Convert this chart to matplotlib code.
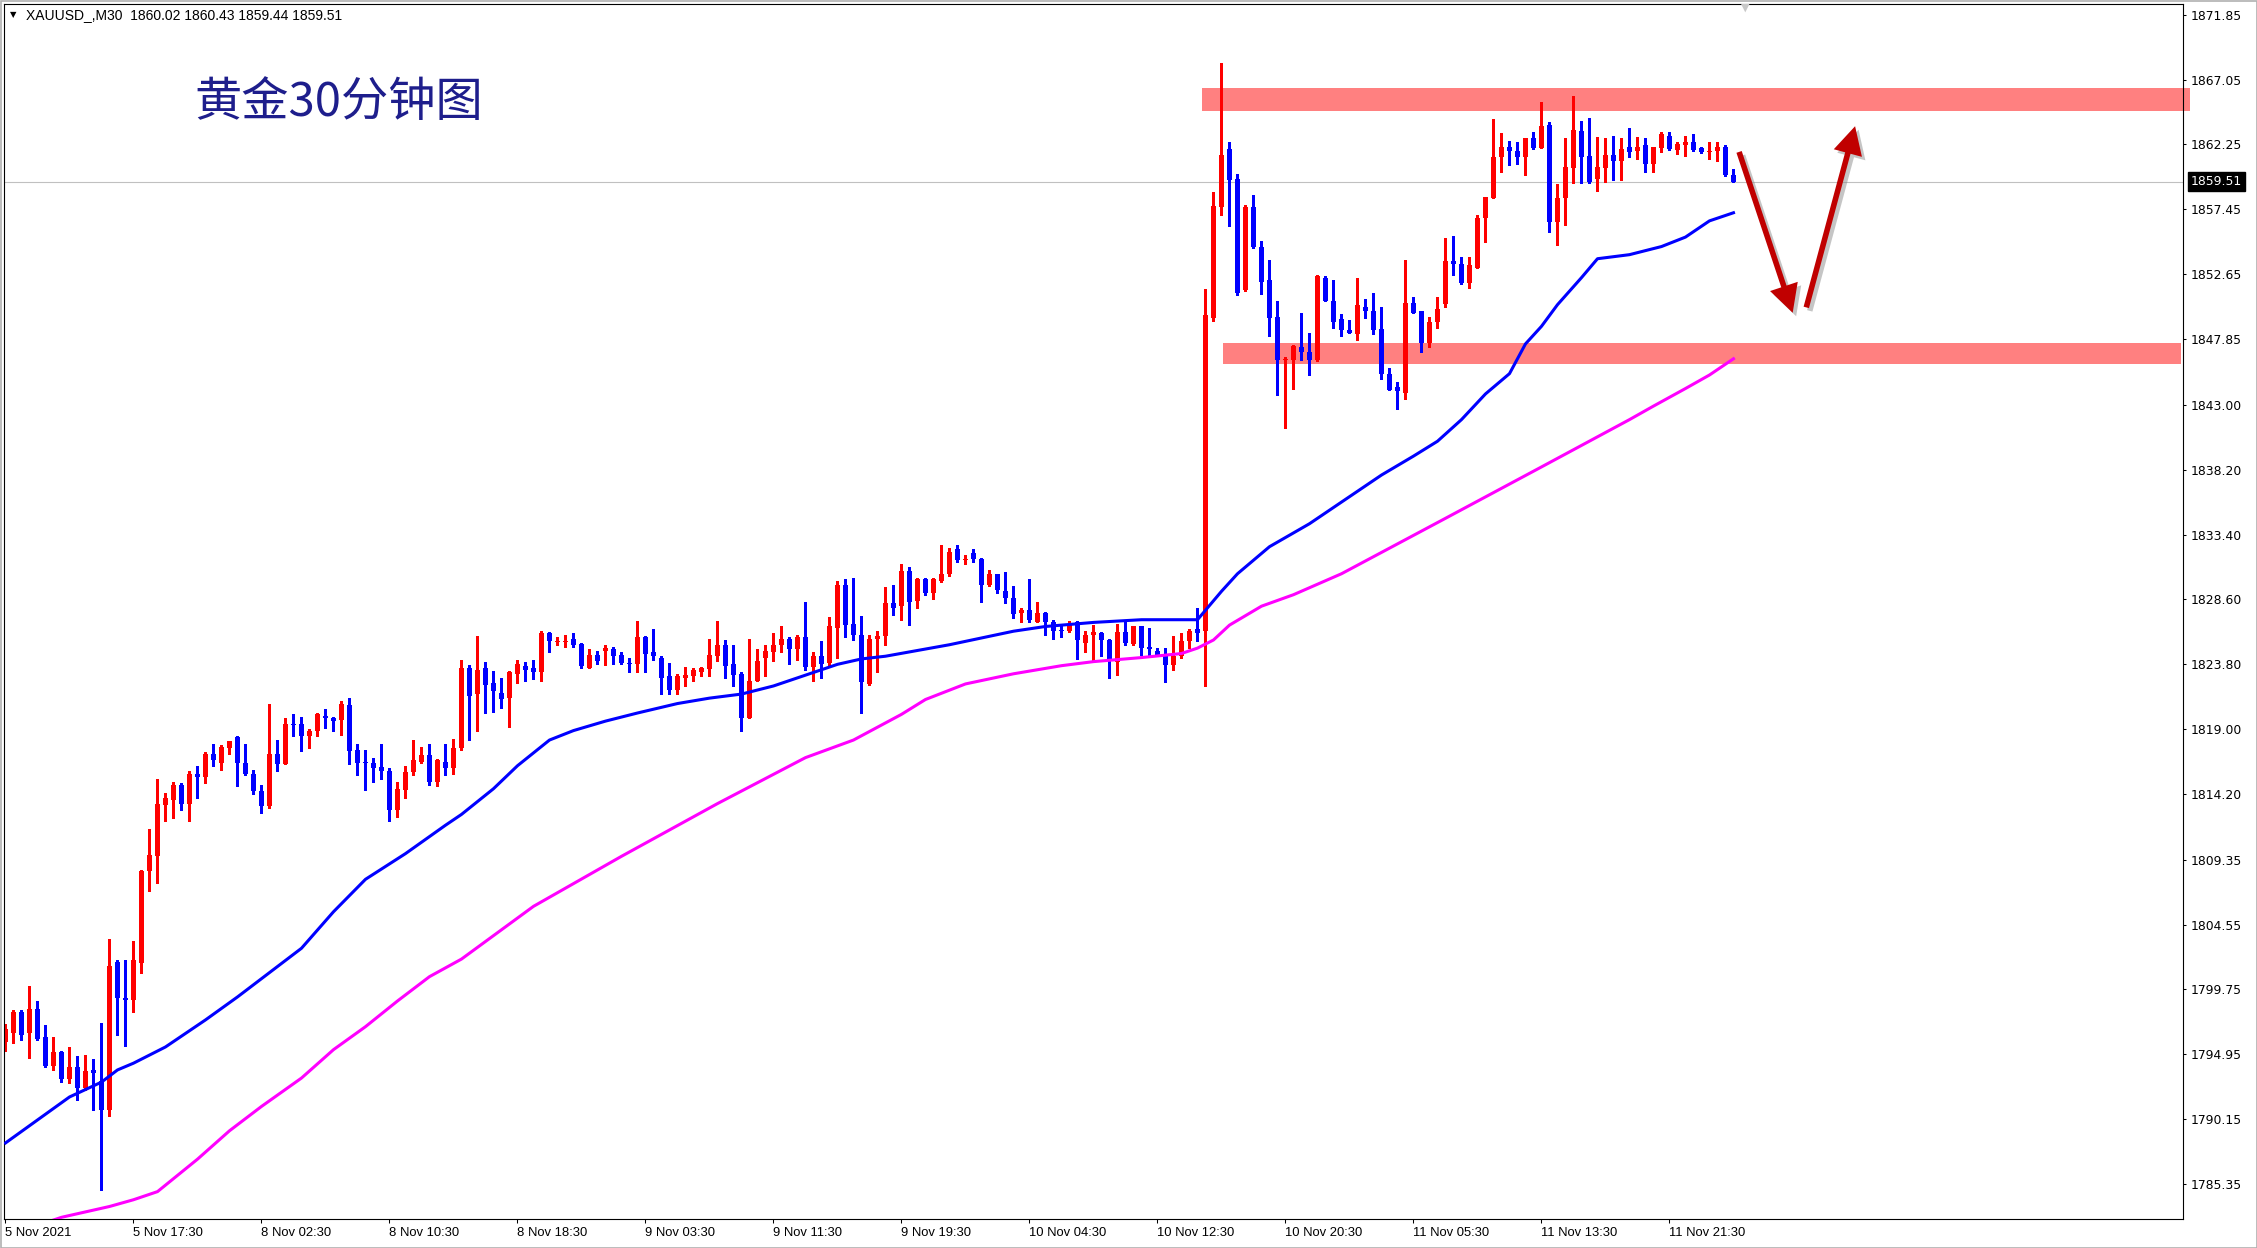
import matplotlib
matplotlib.use('Agg')
import matplotlib.pyplot as plt
import matplotlib.patheffects as pe
import matplotlib.transforms as mtrans
from matplotlib.patches import Rectangle, FancyArrowPatch
import numpy as np

plt.rcParams['font.family'] = ['DejaVu Sans']

# XAUUSD M30 candles, 5 Nov 2021 ... 11 Nov 2021 (red = up, blue = down)
opens = [1795.9, 1796.5, 1798.1, 1796.5, 1798.3, 1796.2, 1794.1, 1795.1, 1793.1, 1794.0,
         1792.5, 1793.8, 1793.0, 1790.8, 1801.8, 1799.1, 1799.0, 1801.7, 1808.5, 1809.6,
         1813.4, 1813.8, 1814.9, 1813.5, 1815.7, 1815.5, 1817.2, 1816.5, 1817.6, 1818.4,
         1816.5, 1815.7, 1814.4, 1813.3, 1817.2, 1816.4, 1819.4, 1819.4, 1818.5, 1818.9,
         1820.0, 1819.8, 1819.7, 1820.8, 1817.5, 1816.6, 1816.5, 1816.2, 1815.9, 1813.0,
         1814.5, 1815.8, 1816.6, 1817.1, 1815.1, 1816.6, 1816.1, 1817.6, 1823.5, 1821.6,
         1823.5, 1822.4, 1821.7, 1821.3, 1823.1, 1823.7, 1823.5, 1823.2, 1826.1, 1825.45,
         1825.45, 1825.7, 1825.3, 1823.55, 1824.5, 1824.8, 1824.9, 1824.5, 1823.9, 1823.8,
         1825.8, 1824.7, 1824.3, 1822.9, 1821.9, 1822.8, 1822.9, 1823.2, 1823.45, 1824.4,
         1825.2, 1823.8, 1823.1, 1819.85, 1822.6, 1824.3, 1824.7, 1825.2, 1825.7, 1824.9,
         1825.8, 1823.6, 1824.4, 1823.9, 1826.5, 1829.7, 1826.8, 1826.0, 1822.35, 1825.7,
         1825.9, 1828.3, 1828.08, 1830.7, 1828.5, 1830.1, 1829.05, 1830.0, 1830.45, 1832.3,
         1831.5, 1832.0, 1831.6, 1829.7, 1830.45, 1829.2, 1828.7, 1827.6, 1827.8, 1826.96,
         1827.6, 1826.9, 1826.3, 1826.3, 1826.9, 1825.4, 1826.0, 1826.1, 1825.6, 1824.0,
         1826.2, 1825.3, 1826.6, 1825.05, 1824.8, 1824.5, 1823.75, 1824.4, 1825.5, 1826.4,
         1826.3, 1849.4, 1857.6, 1861.9, 1859.7, 1851.5, 1857.6, 1854.7, 1852.2, 1849.5,
         1846.3, 1846.3, 1847.3, 1846.9, 1846.3, 1852.4, 1850.7, 1849.35, 1848.5, 1848.2,
         1850.2, 1849.9, 1848.6, 1845.3, 1844.3, 1843.9, 1850.5, 1849.9, 1847.6, 1849.1,
         1850.45, 1853.6, 1853.4, 1852.0, 1853.1, 1856.8, 1858.3, 1861.3, 1862.1, 1861.8,
         1861.3, 1862.7, 1862.0, 1863.7, 1856.5, 1858.3, 1860.5, 1863.25, 1861.4, 1859.7,
         1860.5, 1861.5, 1861.0, 1862.1, 1861.8, 1862.2, 1860.8, 1862.0, 1862.9, 1861.85,
         1862.2, 1862.4, 1862.0, 1861.7, 1861.8, 1862.1, 1860.02]
highs = [1797.2, 1798.2, 1798.2, 1800.0, 1798.9, 1797.1, 1796.2, 1795.2, 1795.5, 1794.8,
         1794.9, 1794.6, 1797.3, 1803.5, 1801.9, 1801.9, 1803.3, 1808.6, 1811.6, 1815.3,
         1814.3, 1815.1, 1815.0, 1815.9, 1816.3, 1817.3, 1817.9, 1817.8, 1818.1, 1818.5,
         1817.9, 1816.0, 1814.9, 1820.9, 1818.2, 1819.8, 1820.1, 1819.9, 1819.0, 1820.2,
         1820.5, 1819.9, 1821.1, 1821.3, 1817.9, 1817.5, 1816.9, 1817.9, 1816.1, 1815.1,
         1816.3, 1818.2, 1817.7, 1817.9, 1816.8, 1817.9, 1818.3, 1824.1, 1823.75, 1825.9,
         1824.0, 1823.3, 1822.8, 1823.3, 1824.1, 1824.0, 1824.1, 1826.3, 1826.2, 1825.8,
         1826.0, 1826.1, 1825.4, 1824.9, 1824.8, 1825.2, 1825.1, 1824.7, 1824.3, 1827.0,
         1825.9, 1826.4, 1824.4, 1823.9, 1823.1, 1823.6, 1823.5, 1823.6, 1825.7, 1827.0,
         1825.6, 1825.2, 1823.2, 1825.7, 1824.9, 1825.2, 1826.1, 1826.6, 1825.8, 1826.0,
         1828.4, 1824.7, 1825.5, 1827.3, 1830.0, 1830.1, 1830.2, 1827.4, 1826.0, 1826.3,
         1829.5, 1829.7, 1831.2, 1831.0, 1830.2, 1830.2, 1830.2, 1832.6, 1832.4, 1832.6,
         1831.9, 1832.3, 1831.7, 1830.8, 1830.5, 1830.6, 1829.6, 1828.0, 1830.1, 1828.4,
         1827.7, 1827.1, 1826.7, 1827.0, 1827.0, 1826.3, 1826.7, 1826.2, 1825.7, 1826.8,
         1826.9, 1826.6, 1826.65, 1826.5, 1825.0, 1825.0, 1825.9, 1826.1, 1826.4, 1827.95,
         1851.55, 1858.7, 1868.3, 1862.4, 1860.1, 1857.8, 1858.5, 1855.1, 1853.7, 1850.7,
         1846.5, 1847.4, 1849.8, 1848.3, 1852.6, 1852.5, 1852.2, 1849.7, 1849.3, 1852.4,
         1850.8, 1851.3, 1850.2, 1845.7, 1844.7, 1853.7, 1851.0, 1849.9, 1849.5, 1851.0,
         1855.3, 1855.5, 1853.9, 1853.9, 1857.0, 1858.4, 1864.1, 1863.1, 1862.5, 1862.4,
         1862.7, 1863.2, 1865.4, 1863.9, 1859.3, 1862.7, 1865.8, 1864.0, 1864.2, 1862.8,
         1862.7, 1862.9, 1862.7, 1863.5, 1862.8, 1862.7, 1862.1, 1863.2, 1863.2, 1862.4,
         1862.9, 1863.0, 1862.1, 1862.4, 1862.4, 1862.2, 1860.43]
lows = [1795.2, 1795.8, 1796.0, 1794.7, 1796.0, 1794.0, 1793.8, 1792.9, 1792.8, 1791.6,
        1792.3, 1790.8, 1784.9, 1790.4, 1796.4, 1795.6, 1798.1, 1801.0, 1807.0, 1807.6,
        1812.2, 1812.4, 1813.0, 1812.2, 1813.9, 1815.0, 1816.3, 1816.0, 1817.2, 1814.8,
        1815.6, 1814.2, 1812.8, 1813.2, 1815.9, 1816.4, 1818.5, 1817.4, 1817.6, 1818.5,
        1819.1, 1818.9, 1818.6, 1816.4, 1815.6, 1814.5, 1815.1, 1815.3, 1812.2, 1812.5,
        1813.9, 1815.6, 1816.5, 1814.9, 1814.8, 1815.6, 1815.7, 1817.5, 1818.2, 1818.9,
        1820.2, 1820.3, 1820.6, 1819.2, 1822.4, 1822.6, 1822.7, 1822.6, 1824.7, 1825.2,
        1825.1, 1825.1, 1823.5, 1823.5, 1823.85, 1823.75, 1823.85, 1823.85, 1823.2, 1823.2,
        1823.2, 1824.1, 1821.6, 1821.6, 1821.6, 1822.2, 1822.6, 1822.9, 1822.9, 1824.05,
        1822.8, 1822.2, 1818.9, 1819.8, 1822.55, 1822.9, 1824.05, 1824.7, 1823.8, 1824.1,
        1823.4, 1822.6, 1822.8, 1823.7, 1824.3, 1825.8, 1825.6, 1820.2, 1822.3, 1823.2,
        1825.2, 1827.45, 1827.1, 1826.7, 1828.0, 1828.95, 1828.6, 1829.9, 1830.3, 1831.4,
        1831.2, 1831.4, 1828.4, 1829.6, 1829.1, 1828.3, 1827.2, 1826.9, 1826.9, 1826.9,
        1826.0, 1825.7, 1825.8, 1826.2, 1824.2, 1824.7, 1824.0, 1824.4, 1822.8, 1823.0,
        1825.2, 1825.25, 1824.5, 1824.4, 1824.4, 1822.5, 1823.4, 1824.3, 1825.0, 1825.5,
        1822.2, 1849.2, 1857.0, 1856.2, 1851.1, 1851.4, 1854.6, 1851.2, 1848.1, 1843.7,
        1841.3, 1844.2, 1846.3, 1845.2, 1846.2, 1850.7, 1848.7, 1848.1, 1848.3, 1847.8,
        1849.4, 1848.2, 1844.9, 1844.1, 1842.7, 1843.45, 1849.8, 1846.9, 1847.25, 1848.7,
        1850.2, 1852.6, 1851.9, 1851.6, 1853.1, 1855.0, 1858.3, 1860.2, 1860.7, 1860.8,
        1860.0, 1861.9, 1862.0, 1855.8, 1854.8, 1856.3, 1859.4, 1859.4, 1859.4, 1858.8,
        1859.5, 1859.6, 1859.65, 1861.3, 1861.2, 1860.2, 1860.2, 1861.7, 1861.85, 1861.55,
        1861.4, 1861.8, 1861.6, 1861.2, 1861.05, 1859.9, 1859.44]
closes = [1796.8, 1798.1, 1796.4, 1798.3, 1796.1, 1794.1, 1795.1, 1793.1, 1794.0, 1792.5,
          1793.7, 1793.6, 1790.8, 1801.5, 1799.1, 1799.0, 1801.9, 1808.5, 1809.7, 1813.5,
          1813.9, 1814.9, 1813.5, 1815.7, 1815.5, 1817.2, 1816.7, 1817.7, 1818.1, 1816.5,
          1815.7, 1814.4, 1813.3, 1817.2, 1816.4, 1819.4, 1819.3, 1818.5, 1818.9, 1820.1,
          1819.8, 1819.6, 1820.9, 1817.4, 1816.5, 1816.5, 1816.1, 1815.9, 1813.0, 1814.6,
          1815.8, 1816.7, 1817.1, 1815.1, 1816.7, 1816.1, 1817.6, 1823.5, 1821.48, 1823.4,
          1822.3, 1821.8, 1821.2, 1823.2, 1823.8, 1823.4, 1823.2, 1826.1, 1825.5, 1825.5,
          1825.55, 1825.2, 1823.7, 1824.5, 1824.05, 1825.0, 1824.4, 1823.9, 1823.8, 1825.8,
          1824.6, 1824.4, 1822.8, 1821.9, 1822.9, 1823.0, 1823.4, 1823.5, 1824.5, 1825.2,
          1823.7, 1823.0, 1819.85, 1822.6, 1824.05, 1824.8, 1825.2, 1825.7, 1824.9, 1825.8,
          1823.6, 1824.4, 1823.8, 1826.6, 1829.7, 1826.7, 1826.0, 1822.5, 1825.7, 1825.9,
          1828.3, 1828.0, 1830.7, 1828.4, 1830.1, 1829.05, 1830.1, 1830.45, 1832.1, 1831.5,
          1831.6, 1831.6, 1829.7, 1830.45, 1829.3, 1828.7, 1827.5, 1827.8, 1827.1, 1827.6,
          1826.96, 1826.3, 1826.25, 1826.8, 1825.6, 1826.0, 1826.2, 1825.6, 1824.2, 1826.2,
          1825.4, 1826.6, 1825.0, 1824.9, 1824.5, 1823.75, 1824.4, 1825.5, 1826.3, 1826.1,
          1849.65, 1857.7, 1861.5, 1859.6, 1851.3, 1857.6, 1854.7, 1852.1, 1849.4, 1846.3,
          1846.4, 1847.35, 1846.9, 1846.3, 1852.5, 1850.7, 1849.1, 1848.5, 1848.3, 1850.4,
          1849.96, 1848.5, 1845.3, 1844.1, 1844.0, 1850.5, 1849.8, 1847.6, 1849.1, 1850.1,
          1853.6, 1853.4, 1852.0, 1853.3, 1856.8, 1858.4, 1861.3, 1862.1, 1861.8, 1861.3,
          1862.7, 1862.0, 1863.6, 1856.5, 1858.3, 1860.6, 1863.3, 1861.3, 1859.5, 1860.6,
          1861.5, 1861.0, 1861.9, 1861.7, 1862.1, 1860.8, 1862.1, 1863.0, 1861.9, 1862.3,
          1862.46, 1861.85, 1861.7, 1861.75, 1862.1, 1860.0, 1859.51]

# moving averages (bar index, price)
ma_blue_bar = [0, 4, 8, 12, 14, 16, 20, 25, 29, 33, 37, 41, 45, 50, 55, 57, 61, 64, 68,
               71, 75, 79, 84, 88, 92, 96, 100, 104, 107, 110, 118, 126, 130, 136, 142,
               149, 152, 154, 158, 163, 167, 172, 176, 179, 182, 185, 188, 190, 192, 194,
               197, 199, 203, 207, 210, 213, 216]
ma_blue_val = [1788.4, 1790.1, 1791.8, 1792.9, 1793.8, 1794.3, 1795.5, 1797.5, 1799.2,
               1801.0, 1802.8, 1805.5, 1807.9, 1809.8, 1811.9, 1812.7, 1814.6, 1816.3,
               1818.2, 1818.9, 1819.6, 1820.2, 1820.9, 1821.3, 1821.6, 1822.2, 1823.0,
               1823.8, 1824.2, 1824.4, 1825.25, 1826.25, 1826.6, 1826.9, 1827.1, 1827.1,
               1829.2, 1830.5, 1832.5, 1834.2, 1835.8, 1837.8, 1839.2, 1840.3, 1841.9,
               1843.8, 1845.3, 1847.5, 1848.8, 1850.4, 1852.4, 1853.8, 1854.1, 1854.7,
               1855.4, 1856.6, 1857.2]
ma_pink_bar = [4, 7, 10, 13, 16, 19, 24, 28, 32, 37, 41, 45, 49, 53, 57, 66, 77, 89, 100,
               106, 112, 115, 120, 126, 132, 136, 142, 147, 149, 151, 153, 157, 161, 167,
               180, 192, 203, 206, 210, 213, 216]
ma_pink_val = [1782.3, 1782.9, 1783.3, 1783.7, 1784.2, 1784.8, 1787.2, 1789.3, 1791.1,
               1793.2, 1795.3, 1797.0, 1798.9, 1800.7, 1802.0, 1805.9, 1809.6, 1813.5,
               1816.9, 1818.2, 1820.1, 1821.2, 1822.35, 1823.1, 1823.7, 1824.0, 1824.3,
               1824.6, 1825.0, 1825.6, 1826.7, 1828.1, 1828.95, 1830.5, 1834.6, 1838.4,
               1841.9, 1842.9, 1844.2, 1845.2, 1846.4]

time_labels = ['5 Nov 2021', '5 Nov 17:30', '8 Nov 02:30', '8 Nov 10:30', '8 Nov 18:30',
               '9 Nov 03:30', '9 Nov 11:30', '9 Nov 19:30', '10 Nov 04:30', '10 Nov 12:30',
               '10 Nov 20:30', '11 Nov 05:30', '11 Nov 13:30', '11 Nov 21:30']
label_bars = [0, 16, 32, 48, 64, 80, 96, 112, 128, 144, 160, 176, 192, 208]
price_ticks = [1871.85, 1867.05, 1862.25, 1857.45, 1852.65, 1847.85, 1843.00, 1838.20,
               1833.40, 1828.60, 1823.80, 1819.00, 1814.20, 1809.35, 1804.55, 1799.75,
               1794.95, 1790.15, 1785.35]
last_price = 1859.51

# resistance / support zones: (bar start, bar end, low, high)
zone_top = (149.6, 273.1, 1864.7, 1866.4)
zone_bottom = (152.2, 271.9, 1846.0, 1847.6)
# projected path: start -> tip (bar, price)
arrow_down = ((216.7, 1861.7), (223.4, 1849.8))
arrow_up = ((225.1, 1850.2), (231.2, 1863.6))

W, H = 2257, 1248
fig = plt.figure(figsize=(W / 100, H / 100), dpi=100)
ax = fig.add_axes([4 / W, 1 - 1219 / H, (2183 - 4) / W, (1219 - 4) / H])

o = np.array(opens)
h = np.array(highs)
l = np.array(lows)
c = np.array(closes)
x = np.arange(len(o))
cols = np.where(c >= o, '#FF0000', '#0000FF')

ax.axhline(last_price, color='#C0C0C0', lw=0.8, zorder=1)

for z in (zone_top, zone_bottom):
    ax.add_patch(Rectangle((z[0], z[2]), z[1] - z[0], z[3] - z[2], facecolor='#FF8080',
                           edgecolor='none', zorder=1.5, clip_on=False))

ax.vlines(x, l, h, colors=cols, lw=0.75, antialiased=False, zorder=2)
body_lo = np.minimum(o, c)
body_h = np.maximum(np.abs(c - o), 0.075)
ax.bar(x, body_h, bottom=body_lo, width=0.64, color=cols, linewidth=0,
       antialiased=False, zorder=2.1)

ax.plot(ma_blue_bar, ma_blue_val, color='#0000FF', lw=2.2, zorder=3,
        solid_joinstyle='round')
ax.plot(ma_pink_bar, ma_pink_val, color='#FF00FF', lw=2.2, zorder=3,
        solid_joinstyle='round')

for start, tip in (arrow_down, arrow_up):
    arr = FancyArrowPatch(start, tip,
                          arrowstyle='simple,head_length=2.0,head_width=2.1,tail_width=0.4',
                          mutation_scale=10, color='#C00000', lw=0, shrinkA=0, shrinkB=0,
                          zorder=4, clip_on=False,
                          path_effects=[pe.SimplePatchShadow(offset=(2.5, -2.5),
                                                             shadow_rgbFace='#808080', alpha=0.45),
                                        pe.Normal()])
    ax.add_patch(arr)

ax.set_xlim(-0.1875, 272.19)
ax.set_ylim(1782.775, 1872.64)

ax.yaxis.tick_right()
ax.set_yticks(price_ticks)
ax.set_yticklabels(['%.2f' % v for v in price_ticks])
ax.tick_params(axis='y', length=2.3, width=0.75, pad=3.4, labelsize=8.9, colors='black')
ax.set_xticks(label_bars)
ax.set_xticklabels(time_labels, ha='left', family='Liberation Sans', fontsize=9.4)
ax.tick_params(axis='x', length=3, width=0.75, pad=2.5)
for s in ax.spines.values():
    s.set_linewidth(0.8)
    s.set_color('black')

# current price tag
trans = mtrans.blended_transform_factory(ax.transAxes, ax.transData)
ax.text(1.0035, last_price, '%.2f' % last_price, transform=trans, color='white',
        fontsize=8.9, va='center', ha='left',
        bbox=dict(boxstyle='square,pad=0.22', facecolor='black', edgecolor='black'))

# header line and title
fig.text(10 / W, 1 - 15 / H, '\u25bc', fontsize=6, va='center', ha='left', color='black')
fig.text(26 / W, 1 - 15 / H, 'XAUUSD_,M30  1860.02 1860.43 1859.44 1859.51',
         fontsize=10, family='Liberation Sans', va='center', ha='left')
fig.text(194 / W, 1 - 103 / H, '黄金30分钟图', fontsize=34, color='#1E1E8C',
         family=['Noto Sans CJK SC', 'DejaVu Sans'], va='center', ha='left')

# chart shift marker
fig.text(1745 / W, 1 - 8 / H, '\u25bc', fontsize=8, va='center', ha='center', color='#C8C8C8')

# outer frame
fig.patches.append(Rectangle((0.5 / W, 0.5 / H), 1 - 1 / W, 1 - 1 / H, transform=fig.transFigure,
                             fill=False, edgecolor='#B0B0B0', lw=1.2))

fig.savefig('out.png', dpi=100, facecolor='white')
